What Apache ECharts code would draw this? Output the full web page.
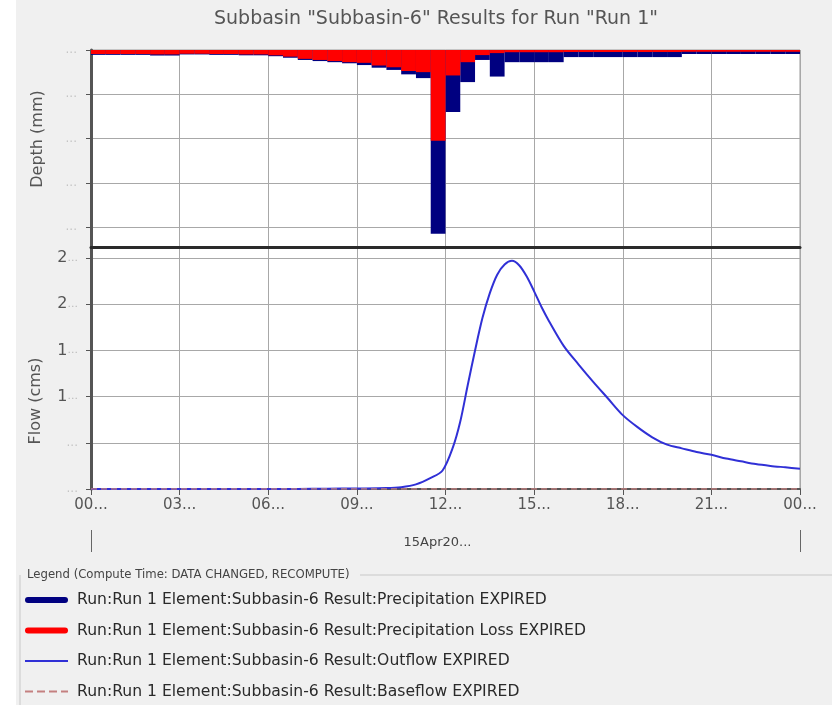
<!DOCTYPE html>
<html>
<head>
<meta charset="utf-8">
<script src="https://cdn.jsdelivr.net/npm/echarts@6/dist/echarts.min.js"></script>
<style>
  html, body { margin: 0; padding: 0; background: #ffffff; }
  #chart { width: 832px; height: 705px; }
</style>
</head>
<body>
<div id="chart"></div>
<script>
// Half-hour interval hyetograph (mm), starting at 00:00
const intervalHours = 0.5;
const precipitation = [
  0.22, 0.22, 0.22, 0.22, 0.25, 0.25, 0.20, 0.20, 0.22, 0.22, 0.24, 0.24,
  0.28, 0.35, 0.45, 0.50, 0.55, 0.60, 0.68, 0.80, 0.90, 1.10, 1.27, 8.30,
  2.80, 1.45, 0.45, 1.20, 0.55, 0.55, 0.55, 0.55, 0.32, 0.32, 0.32, 0.32,
  0.32, 0.32, 0.32, 0.32, 0.18, 0.18, 0.18, 0.18, 0.18, 0.18, 0.18, 0.18
];
const precipitationLoss = [
  0.18, 0.18, 0.18, 0.18, 0.20, 0.20, 0.17, 0.17, 0.18, 0.18, 0.20, 0.20,
  0.24, 0.30, 0.40, 0.45, 0.50, 0.55, 0.58, 0.70, 0.78, 0.95, 1.00, 4.10,
  1.15, 0.55, 0.23, 0.14, 0.10, 0.10, 0.10, 0.10, 0.09, 0.09, 0.09, 0.09,
  0.09, 0.09, 0.09, 0.09, 0.08, 0.08, 0.08, 0.08, 0.08, 0.08, 0.08, 0.08
];

// Outflow hydrograph: time (hours from 00:00) and flow (cms)
const flowHours = [
  0, 1, 2, 3, 4, 5, 6, 7, 8, 9, 10, 10.5, 11, 11.5, 11.9, 12.25, 12.5, 12.75,
  13, 13.25, 13.5, 13.75, 14, 14.25, 14.5, 14.75, 15, 15.25, 15.5, 16, 16.5,
  17, 17.5, 18, 18.5, 19, 19.5, 20, 20.5, 21, 21.5, 22, 22.5, 23, 23.5, 24
];
const outflow = [
  0, 0, 0, 0, 0, 0, 0, 0.001, 0.003, 0.006, 0.01, 0.02, 0.05, 0.12, 0.2, 0.45,
  0.73, 1.12, 1.5, 1.85, 2.12, 2.32, 2.43, 2.47, 2.42, 2.3, 2.14, 1.97, 1.82,
  1.55, 1.35, 1.16, 0.98, 0.8, 0.67, 0.56, 0.48, 0.44, 0.4, 0.37, 0.33, 0.3,
  0.27, 0.25, 0.235, 0.22
];
const baseflowHours = [0, 24];
const baseflow = [0, 0];

// Axis tick labels
const timeTickLabels = ['00...', '03...', '06...', '09...', '12...', '15...', '18...', '21...', '00...'];
const dateLabels = ['15Apr20...'];

const seriesNames = [
  'Run:Run 1 Element:Subbasin-6 Result:Precipitation EXPIRED',
  'Run:Run 1 Element:Subbasin-6 Result:Precipitation Loss EXPIRED',
  'Run:Run 1 Element:Subbasin-6 Result:Outflow EXPIRED',
  'Run:Run 1 Element:Subbasin-6 Result:Baseflow EXPIRED'
];

const NAVY = '#000080';
const RED = '#ff0000';
const BLUE = '#3030d6';
const BASE = '#c48080';
const FONT = '"DejaVu Sans", sans-serif';

function hyetoData(values) {
  return values.map((v, i) => [i * intervalHours, v]);
}
function pairs(xs, ys) {
  return xs.map((x, i) => [x, ys[i]]);
}

// Bars hang from the top of the inverted depth axis, one per interval
function renderInterval(params, api) {
  const start = api.value(0);
  const p0 = api.coord([start, 0]);
  const p1 = api.coord([start + intervalHours, api.value(1)]);
  return {
    type: 'rect',
    shape: { x: p0[0], y: p0[1], width: p1[0] - p0[0], height: p1[1] - p0[1] },
    style: { fill: api.visual('color') }
  };
}

const chart = echarts.init(document.getElementById('chart'), null, { renderer: 'canvas' });

const gridLineStyle = { color: '#a8a8a8', width: 1 };
const timeAxisBase = {
  type: 'value', min: 0, max: 24, interval: 3,
  splitLine: { show: true, lineStyle: gridLineStyle }
};

chart.setOption({
  backgroundColor: '#f0f0f0',
  animation: false,
  title: {
    text: 'Subbasin "Subbasin-6" Results for Run "Run 1"',
    left: 431, textAlign: 'center', top: 5,
    textStyle: { fontFamily: FONT, fontSize: 19, fontWeight: 'normal', color: '#555555' }
  },
  grid: [
    { left: 91, right: 32, top: 50, height: 197, show: true, backgroundColor: '#ffffff', borderColor: '#9a9a9a', borderWidth: 1 },
    { left: 91, right: 32, top: 247, height: 242, show: true, backgroundColor: '#ffffff', borderColor: '#9a9a9a', borderWidth: 1 }
  ],
  xAxis: [
    Object.assign({}, timeAxisBase, {
      gridIndex: 0,
      axisLine: { show: true, onZero: false, lineStyle: { color: '#2a2a2a', width: 3 } },
      axisTick: { show: false },
      axisLabel: { show: false }
    }),
    Object.assign({}, timeAxisBase, {
      gridIndex: 1,
      axisLine: { show: true, onZero: false, lineStyle: { color: '#555555', width: 2 } },
      axisTick: { show: true, length: 6, lineStyle: { color: '#555555' } },
      axisLabel: {
        margin: 9, color: '#555555', fontFamily: FONT, fontSize: 15,
        formatter: (v) => timeTickLabels[Math.round(v / 3)]
      }
    }),
    {
      type: 'category', gridIndex: 1, position: 'bottom', offset: 41,
      data: dateLabels, boundaryGap: true,
      axisLine: { show: true, onZero: false, lineStyle: { color: '#666666', opacity: 0 } },
      axisTick: { show: true, interval: 0, length: 22, lineStyle: { color: '#666666', width: 1 } },
      axisLabel: { margin: 6, color: '#444444', fontFamily: FONT, fontSize: 13, padding: [0, 16, 0, 0] },
      splitLine: { show: false }
    }
  ],
  yAxis: [
    {
      type: 'value', gridIndex: 0, inverse: true, min: 0, max: 8.9, interval: 2,
      axisLine: { show: true, lineStyle: { color: '#555555', width: 3 } },
      axisTick: { show: true, length: 5, lineStyle: { color: '#555555' } },
      splitLine: { show: true, lineStyle: gridLineStyle },
      axisLabel: { showMaxLabel: false, color: '#c4c4c4', fontFamily: FONT, fontSize: 12, margin: 14, formatter: () => '...' }
    },
    {
      type: 'value', gridIndex: 1, min: 0, max: 2.62, interval: 0.5,
      axisLine: { show: true, lineStyle: { color: '#555555', width: 3 } },
      axisTick: { show: true, length: 5, lineStyle: { color: '#555555' } },
      splitLine: { show: true, lineStyle: gridLineStyle },
      axisLabel: {
        showMaxLabel: false, fontFamily: FONT, fontSize: 16, margin: 13,
        formatter: (v) => v >= 1 ? Math.floor(v) + '{d|...}' : '{f|...}',
        color: '#555555',
        rich: { d: { color: '#bbbbbb', fontSize: 11 }, f: { color: '#c4c4c4', fontSize: 12 } }
      }
    }
  ],
  legend: {
    orient: 'vertical', left: 25, top: 592, padding: 0,
    itemWidth: 43, itemHeight: 16, itemGap: 14.5,
    textStyle: { fontFamily: FONT, fontSize: 15.6, lineHeight: 16, color: '#2a2a2a', padding: [0, 0, 0, 4] },
    data: [
      { name: seriesNames[0], icon: 'path://M3,0H40A3,3 0 0 1 40,6H3A3,3 0 0 1 3,0Z', itemStyle: { color: NAVY } },
      { name: seriesNames[1], icon: 'path://M3,0H40A3,3 0 0 1 40,6H3A3,3 0 0 1 3,0Z', itemStyle: { color: RED } },
      { name: seriesNames[2], icon: 'path://M0,0H43V2H0Z', itemStyle: { color: BLUE } },
      { name: seriesNames[3], icon: 'path://M0,0h8v2h-8zM12,0h8v2h-8zM24,0h8v2h-8zM36,0h7v2h-7z', itemStyle: { color: BASE } }
    ]
  },
  graphic: [
    { type: 'rect', left: 0, top: 0, shape: { width: 16, height: 705 }, style: { fill: '#ffffff' }, silent: true, z: -1 },
    { type: 'line', shape: { x1: 20, y1: 575, x2: 20, y2: 705 }, style: { stroke: '#c8c8c8', lineWidth: 1 } },
    { type: 'line', shape: { x1: 360, y1: 575, x2: 832, y2: 575 }, style: { stroke: '#c8c8c8', lineWidth: 1 } },
    { type: 'text', left: 27, top: 569, style: { text: 'Legend (Compute Time: DATA CHANGED, RECOMPUTE)', font: '11.7px ' + FONT, fill: '#444444' } },
    { type: 'text', x: 38, y: 139, rotation: Math.PI / 2, style: { text: 'Depth (mm)', font: '16px ' + FONT, fill: '#555555', align: 'center', verticalAlign: 'middle' } },
    { type: 'text', x: 36, y: 401, rotation: Math.PI / 2, style: { text: 'Flow (cms)', font: '16px ' + FONT, fill: '#555555', align: 'center', verticalAlign: 'middle' } }
  ],
  series: [
    {
      name: seriesNames[0], type: 'custom', xAxisIndex: 0, yAxisIndex: 0,
      itemStyle: { color: NAVY }, renderItem: renderInterval,
      encode: { x: 0, y: 1 }, data: hyetoData(precipitation), z: 2
    },
    {
      name: seriesNames[1], type: 'custom', xAxisIndex: 0, yAxisIndex: 0,
      itemStyle: { color: RED }, renderItem: renderInterval,
      encode: { x: 0, y: 1 }, data: hyetoData(precipitationLoss), z: 3
    },
    {
      name: seriesNames[2], type: 'line', xAxisIndex: 1, yAxisIndex: 1,
      showSymbol: false, symbol: 'none', smooth: 0.3,
      itemStyle: { color: BLUE }, lineStyle: { color: BLUE, width: 2 },
      data: pairs(flowHours, outflow), z: 4
    },
    {
      name: seriesNames[3], type: 'line', xAxisIndex: 1, yAxisIndex: 1,
      showSymbol: false, symbol: 'none',
      itemStyle: { color: BASE }, lineStyle: { color: BASE, width: 1.5, type: [6, 4] },
      data: pairs(baseflowHours, baseflow), z: 5
    }
  ]
});
</script>
</body>
</html>
